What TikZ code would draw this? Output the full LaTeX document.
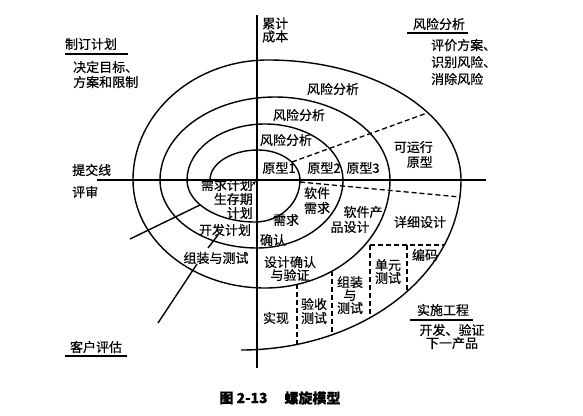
\documentclass[tikz,border=0pt]{standalone}
\usepackage{fontspec}
\setmainfont{Noto Sans CJK SC}[FakeBold=0.4]
\usetikzlibrary{arrows.meta}
\begin{document}
\begin{tikzpicture}[x=1pt,y=-1pt,
    curve/.style={line width=1.4pt},
    cut/.style={line width=1.3pt,dash pattern=on 5pt off 3pt},
    lbl/.style={inner sep=0pt,align=center,font=\fontsize{13}{15}\selectfont},
    capt/.style={inner sep=0pt,font=\fontsize{14}{16}\selectfont\bfseries}]
\useasboundingbox (0,0) rectangle (583,415);
% axes
\draw [curve] (257,15)--(257,368);
\draw [curve] (97,180)--(486,180);
% spiral
\draw [curve] (210,180)
    arc[start angle=180,end angle=270,x radius=48,y radius=30]
    arc[start angle=270,end angle=360,x radius=42,y radius=30]
    arc[start angle=0,end angle=90,x radius=45,y radius=42]
    arc[start angle=90,end angle=180,x radius=68,y radius=42]
    arc[start angle=180,end angle=270,x radius=78,y radius=56]
    arc[start angle=270,end angle=360,x radius=78,y radius=56]
    arc[start angle=0,end angle=90,x radius=86,y radius=68]
    arc[start angle=90,end angle=180,x radius=97,y radius=68]
    arc[start angle=180,end angle=270,x radius=115,y radius=83]
    arc[start angle=270,end angle=360,x radius=115,y radius=83]
    arc[start angle=0,end angle=90,x radius=125,y radius=108]
    arc[start angle=90,end angle=180,x radius=132,y radius=108]
    arc[start angle=180,end angle=270,x radius=135,y radius=120]
    arc[start angle=270,end angle=360,x radius=193,y radius=120]
    arc[start angle=0,end angle=90,x radius=220,y radius=170];
\draw [-{Stealth[length=4pt]},line width=0.7pt] (251,186)--(256,181);
% dashed cuts
\draw [cut] (292,162)--(427,113);
\draw [cut] (300,182)--(460,197);
\draw [cut] (297,284)--(297,344);
\draw [cut] (332,271)--(332,335);
\draw [cut] (370,245)--(370,318);
\draw [cut] (407,245)--(407,292);
\draw [cut] (370,245)--(444,245);
% review lines
\draw [curve] (200,205)--(130,239);
\draw [curve] (218,235)--(208,248);
\draw [curve] (197,264)--(158,323);
% quadrant titles
\node[lbl] (plan) at (91,44) {制订计划};
\draw [curve] (65,54)--(128,54);
\node[lbl,align=left,anchor=west] (goal) at (73,74.5) {决定目标、\\方案和限制};
\node[lbl,align=left,anchor=west] (cost) at (262,30) {累计\\[-2pt]成本};
\node[lbl,anchor=west] (commit) at (72,170) {提交线};
\node[lbl,anchor=west] (review) at (72,192) {评审};
\node[lbl] (risk) at (439,24) {风险分析};
\draw [curve] (407,33)--(468,33);
\node[lbl,align=left,anchor=west] (eval) at (431,62) {评价方案、\\[2pt]识别风险、\\[2pt]消除风险};
\node[lbl] (eng) at (443,310) {实施工程};
\draw [curve] (410,320)--(473,320);
\node[lbl] (next) at (452,336.5) {开发、验证\\[-2pt]下一产品};
\node[lbl] (cust) at (96,347) {客户评估};
\draw [curve] (65,356)--(127,356);
% upper half
\node[lbl] (riskc) at (333,89) {风险分析};
\node[lbl] (riskb) at (299,115) {风险分析};
\node[lbl] (riska) at (286,140) {风险分析};
\node[lbl] (protoa) at (279,168) {原型1};
\node[lbl] (protob) at (324,168) {原型2};
\node[lbl] (protoc) at (363,168) {原型3};
\node[lbl,align=right,anchor=east] (oper) at (433,154.5) {可运行\\原型};
% lower half
\node[lbl,align=right,anchor=east] (reqplan) at (253,199) {需求计划\\[-1pt]生存期\\[-1pt]计划};
\node[lbl] (devplan) at (225,230) {开发计划};
\node[lbl] (intplan) at (216,258) {组装与测试};
\node[lbl] (reqva) at (286,220) {需求};
\node[lbl] (reqvb) at (273,240) {确认};
\node[lbl] (swreq) at (317,200.5) {软件\\需求};
\node[lbl] (pdesa) at (363,212) {软件产};
\node[lbl] (pdesb) at (350,227) {品设计};
\node[lbl] (ddes) at (420,222) {详细设计};
\node[lbl] (code) at (425,255) {编码};
\node[lbl] (unit) at (388,271.5) {单元\\[-2pt]测试};
\node[lbl] (dva) at (290,268.5) {设计确认\\[-2pt]与验证};
\node[lbl] (integ) at (350,295) {组装\\[-2pt]与\\[-2pt]测试};
\node[lbl] (accept) at (314,311) {验收\\[-1pt]测试};
\node[lbl] (impl) at (276,318) {实现};
% caption
\node[capt] (fig) at (243.5,398) {图 2-13};
\node[capt] (title) at (312.5,398) {螺旋模型};
\end{tikzpicture}
\end{document}
